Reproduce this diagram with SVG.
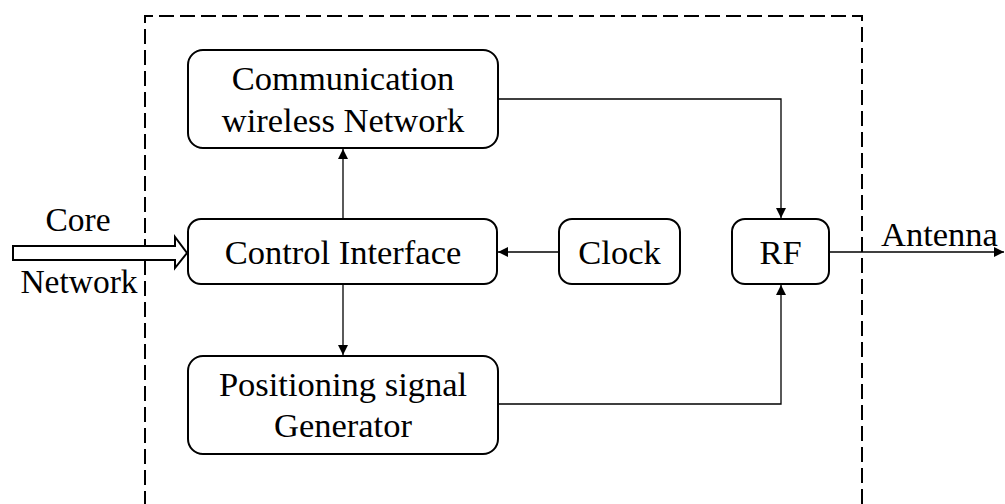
<svg xmlns="http://www.w3.org/2000/svg" width="1005" height="504" viewBox="0 0 1005 504">
  <style>
    .box { fill: #fff; stroke: #000; stroke-width: 2; }
    .lbl { font-family: "Liberation Serif", "Times New Roman", serif; font-size: 34.5px; fill: #000; text-anchor: middle; }
    .side { font-size: 33.5px; }
    .wire { fill: none; stroke: #000; stroke-width: 1.3; }
    .frame { fill: none; stroke: #000; stroke-width: 2; stroke-dasharray: 15 6; }
  </style>
  <defs>
    <marker id="head" viewBox="0 0 10 10" refX="10" refY="5" markerWidth="10" markerHeight="10" markerUnits="userSpaceOnUse" orient="auto">
      <path d="M0,0 L10,5 L0,10 Z" fill="#000"/>
    </marker>
  </defs>

  <rect width="1005" height="504" fill="#fff"/>

  <!-- base station boundary, open at the bottom -->
  <path class="frame" d="M145,506 V16 H862 V506"/>

  <!-- connectors -->
  <g id="connectors">
    <line class="wire" x1="343" y1="219" x2="343" y2="149" marker-end="url(#head)"/>
    <line class="wire" x1="343" y1="284" x2="343" y2="355" marker-end="url(#head)"/>
    <line class="wire" x1="559" y1="252" x2="498" y2="252" marker-end="url(#head)"/>
    <polyline class="wire" points="498,99 781,99 781,218" marker-end="url(#head)"/>
    <polyline class="wire" points="498,404 781,404 781,285" marker-end="url(#head)"/>
    <line class="wire" x1="829" y1="252" x2="1004" y2="252" marker-end="url(#head)"/>
    <!-- hollow input arrow from the core network -->
    <polygon points="13,246 175,246 175,237 187,253 175,268 175,260 13,260" fill="#fff" stroke="#000" stroke-width="2" stroke-linejoin="miter"/>
  </g>

  <g id="core-network">
    <text class="lbl side" x="78" y="231">Core</text>
    <text class="lbl side" x="79" y="293">Network</text>
  </g>

  <g id="antenna">
    <text class="lbl" x="881" y="246" style="text-anchor:start">Antenna</text>
  </g>

  <g id="comm-network">
    <rect class="box" x="188" y="50" width="310" height="98" rx="15"/>
    <text class="lbl" x="343" y="90">Communication</text>
    <text class="lbl" x="343" y="132">wireless Network</text>
  </g>

  <g id="control-interface">
    <rect class="box" x="188" y="219" width="309" height="65" rx="13"/>
    <text class="lbl" x="343" y="264">Control Interface</text>
  </g>

  <g id="clock">
    <rect class="box" x="559" y="219" width="121" height="65" rx="13"/>
    <text class="lbl" x="619.5" y="264">Clock</text>
  </g>

  <g id="rf">
    <rect class="box" x="732" y="219" width="97" height="65" rx="13"/>
    <text class="lbl" x="780.5" y="264">RF</text>
  </g>

  <g id="positioning-generator">
    <rect class="box" x="188" y="356" width="310" height="98" rx="15"/>
    <text class="lbl" x="343" y="396">Positioning signal</text>
    <text class="lbl" x="343" y="437">Generator</text>
  </g>
</svg>
